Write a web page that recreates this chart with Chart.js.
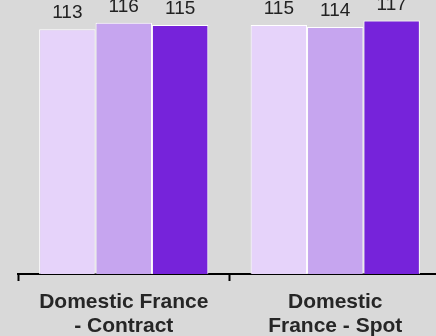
<!DOCTYPE html>
<html>
<head>
<meta charset="utf-8">
<script src="https://cdn.jsdelivr.net/npm/chart.js@4/dist/chart.umd.min.js"></script>
<style>
  html, body { margin: 0; padding: 0; background: #d9d9d9; overflow: hidden; }
  #wrap { width: 441px; height: 336px; position: relative; }
</style>
</head>
<body>
<div id="wrap"><canvas id="chart"></canvas></div>
<script>
// categories and the three price series
const categories = [
    ['Domestic France', '- Contract'],
    ['Domestic', 'France - Spot']
];
const seriesA = [113, 115];
const seriesB = [116, 114];
const seriesC = [115, 117];

const colors = ['#e6d3fa', '#c6a5ef', '#7623da'];
const FONT = '"Liberation Sans", Arial, sans-serif';

// value labels above each bar
const valueLabels = {
    id: 'valueLabels',
    afterDatasetsDraw(chart) {
        const ctx = chart.ctx;
        ctx.save();
        ctx.font = '19px ' + FONT;
        ctx.fillStyle = '#222';
        ctx.textAlign = 'center';
        ctx.textBaseline = 'alphabetic';
        chart.data.datasets.forEach((ds, i) => {
            chart.getDatasetMeta(i).data.forEach((bar, j) => {
                ctx.fillText(String(ds.data[j]), bar.x, bar.y - 11);
            });
        });
        ctx.restore();
    }
};

new Chart(document.getElementById('chart'), {
    type: 'bar',
    data: {
        labels: categories,
        datasets: [
            { data: seriesA, backgroundColor: colors[0] },
            { data: seriesB, backgroundColor: colors[1] },
            { data: seriesC, backgroundColor: colors[2] }
        ].map(d => Object.assign(d, {
            borderColor: '#ffffff',
            borderWidth: 1,
            borderSkipped: 'bottom',
            categoryPercentage: 0.8,
            barPercentage: 1.0
        }))
    },
    options: {
        responsive: true,
        maintainAspectRatio: false,
        animation: false,
        layout: { padding: { left: 18, right: 0, top: 0, bottom: 0 } },
        plugins: {
            legend: { display: false },
            tooltip: { enabled: false }
        },
        scales: {
            y: {
                display: false,
                min: 0,
                max: 126.5
            },
            x: {
                offset: true,
                afterFit(scale) { scale.height = 62; },
                border: { display: true, color: '#000', width: 2 },
                grid: {
                    offset: true,
                    drawOnChartArea: false,
                    drawTicks: true,
                    tickLength: 7,
                    tickWidth: 2,
                    tickColor: '#000'
                },
                ticks: {
                    color: '#262626',
                    padding: 9,
                    maxRotation: 0,
                    font: { family: FONT, size: 21, weight: 'bold', lineHeight: 1.15 }
                }
            }
        }
    },
    plugins: [valueLabels]
});
</script>
</body>
</html>
